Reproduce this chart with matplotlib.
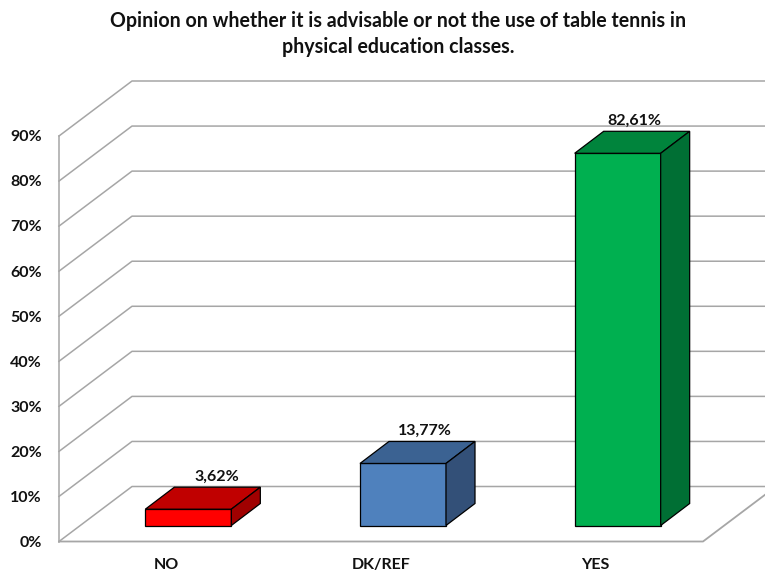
import numpy as np
from matplotlib import pyplot as plt
from matplotlib.patches import Polygon

categories = ["NO", "DK/REF", "YES"]
values = [3.62, 13.77, 82.61]
value_labels = ["3,62%", "13,77%", "82,61%"]
yticks = [0, 10, 20, 30, 40, 50, 60, 70, 80, 90]

front_colors = ["#FF0000", "#4F81BD", "#00B050"]
top_colors = ["#C00000", "#3B6292", "#00843C"]
side_colors = ["#A00000", "#335078", "#006F34"]

W, H = 765, 571
plt.rcParams['font.family'] = ['Lato', 'DejaVu Sans']

fig = plt.figure(figsize=(W / 100, H / 100), dpi=100)
# front plane of the 3d box, in pixels of the reference
left, right, y_bottom, y_top = 59, 703, 541.5, 136
ax = fig.add_axes([left / W, 1 - y_bottom / H, (right - left) / W, (y_bottom - y_top) / H])
ax.set_xlim(-0.5, 2.5)
ax.set_ylim(0, 90)
ax.axis("off")

# depth of the box, and of the bars inside it, in data units
px_x = 3 / (right - left)
px_y = 90 / (y_bottom - y_top)
depth_x, depth_y = 73 * px_x, 55 * px_y
bar_w = 86 * px_x
bar_dx, bar_dy = 22 * px_x, 16 * px_y
bar_depth_x, bar_depth_y = 29 * px_x, 22 * px_y

grid = "#a6a6a6"
x0, x1 = ax.get_xlim()
for t in yticks:
    # side wall then back wall
    ax.plot([x0, x0 + depth_x, x1 + depth_x], [t, t + depth_y, t + depth_y],
            color=grid, lw=1.1, clip_on=False, zorder=1)
    ax.text(x0 - 17 * px_x, t - 0.3, f"{t}%", ha="right", va="center", fontsize=11.5,
            fontweight="bold", color="#111111")
ax.plot([x0, x0], [0, 90], color=grid, lw=1.1, clip_on=False, zorder=1)
ax.plot([x0, x1, x1 + depth_x], [0, 0, depth_y], color=grid, lw=1.3, clip_on=False, zorder=1)

label_shift = [29, 22, 17]
pos = np.arange(len(categories))
for i, v in enumerate(values):
    xa = pos[i] + bar_dx - bar_w / 2
    xb = xa + bar_w
    yb = bar_dy
    yt = bar_dy + v
    dx, dy = bar_depth_x, bar_depth_y
    ax.bar(xa + bar_w / 2, v, width=bar_w, bottom=yb, color=front_colors[i],
           edgecolor="black", linewidth=0.9, zorder=3, clip_on=False)
    ax.add_patch(Polygon([(xa, yt), (xb, yt), (xb + dx, yt + dy), (xa + dx, yt + dy)],
                         facecolor=top_colors[i], edgecolor="black", lw=0.9, zorder=3, clip_on=False))
    ax.add_patch(Polygon([(xb, yb), (xb, yt), (xb + dx, yt + dy), (xb + dx, yb + dy)],
                         facecolor=side_colors[i], edgecolor="black", lw=0.9, zorder=3, clip_on=False))
    ax.text(pos[i] + bar_dx + label_shift[i] * px_x, yt + dy + 2.3, value_labels[i],
            ha="center", va="center", fontsize=11.5, fontweight="bold", color="#111111", zorder=4)
    ax.text(pos[i], -5.2, categories[i], ha="center", va="center", fontsize=11.5,
            fontweight="bold", color="#111111")

fig.text(398 / W, 1 - 21 / H, "Opinion on whether it is advisable or not the use of table tennis in",
         ha="center", va="center", fontsize=14.1, fontweight="bold", color="#111111")
fig.text(398 / W, 1 - 47 / H, "physical education classes.",
         ha="center", va="center", fontsize=14.1, fontweight="bold", color="#111111")

fig.savefig("out.png", dpi=100)
